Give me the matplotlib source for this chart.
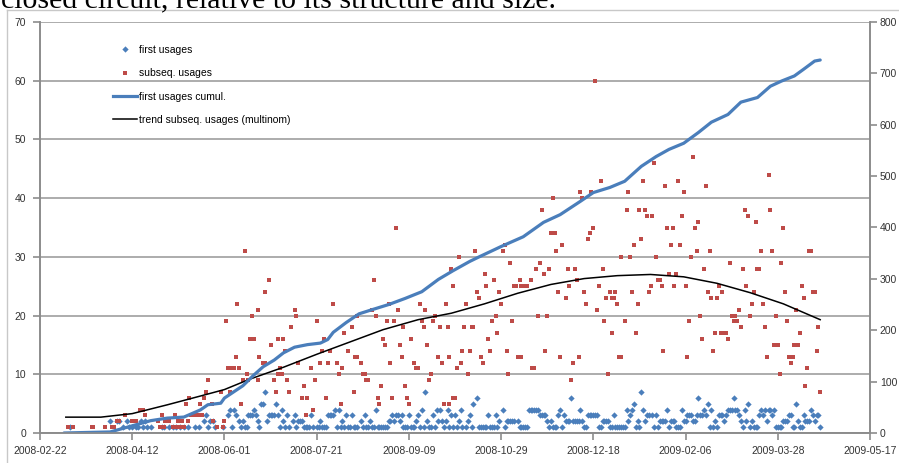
import numpy as np
import matplotlib
matplotlib.use("Agg")
import matplotlib.pyplot as plt
import matplotlib.dates as mdates
from matplotlib.lines import Line2D

# day offsets counted from 2008-02-22
start_date = np.datetime64("2008-02-22")

# first usages, grouped by daily count
first_days_1 = [16, 45, 48, 50, 52, 53, 56, 58, 60, 66, 67, 70, 72, 74, 76, 78, 80, 84, 86, 91, 95, 99,
                104, 109, 111, 112, 119, 130, 133, 135, 139, 143, 144, 145, 146, 148, 150, 151, 153, 154,
                155, 161, 163, 165, 167, 168, 170, 171, 172, 175, 177, 178, 180, 181, 183, 184, 185, 186,
                187, 188, 197, 198, 199, 201, 202, 203, 206, 208, 211, 212, 214, 219, 222, 224, 226, 229,
                231, 234, 238, 239, 240, 241, 242, 244, 245, 246, 248, 252, 260, 261, 262, 263, 264, 276,
                278, 279, 280, 283, 295, 296, 303, 304, 309, 310, 312, 313, 314, 315, 316, 317, 323, 325,
                333, 335, 341, 345, 346, 347, 363, 365, 367, 381, 385, 387, 388, 389, 399, 400, 401, 402,
                408, 409, 412, 413, 423]
first_days_2 = [38, 42, 43, 47, 55, 57, 89, 92, 94, 108, 110, 118, 123, 132, 137, 140, 141, 142, 152,
                164, 174, 179, 189, 190, 192, 195, 204, 210, 216, 218, 220, 227, 232, 249, 253, 254, 255,
                256, 257, 259, 275, 277, 285, 286, 287, 289, 290, 291, 292, 294, 305, 306, 307, 308, 319,
                324, 328, 336, 337, 338, 339, 342, 343, 344, 349, 350, 354, 355, 366, 371, 380, 383, 386,
                394, 403, 404, 405, 411, 415, 416, 417, 420]
first_days_3 = [90, 102, 106, 113, 114, 115, 117, 124, 125, 126, 127, 129, 134, 138, 147, 156, 157, 158,
                159, 166, 169, 176, 191, 193, 194, 196, 200, 205, 213, 223, 225, 233, 243, 247, 271, 272,
                273, 274, 281, 284, 297, 298, 299, 300, 301, 302, 311, 320, 329, 330, 332, 334, 351, 352,
                353, 356, 358, 359, 361, 368, 369, 370, 372, 379, 390, 392, 397, 406, 407, 414, 419, 421,
                422]
first_days_4 = [103, 105, 116, 131, 160, 162, 182, 207, 215, 217, 221, 228, 251, 265, 266, 267, 268, 269,
                270, 282, 293, 318, 321, 327, 340, 348, 360, 364, 373, 374, 375, 377, 378, 382, 391, 393,
                395, 396, 398, 418]
first_days_5 = [120, 121, 128, 235, 322, 362, 384, 410]
first_days_6 = [237, 288, 357, 376]
first_days_7 = [122, 209, 326]

# subsequent usages (day, count)
subseq = [(15, 1), (18, 1), (28, 1), (29, 1), (35, 1), (39, 1), (40, 1), (42, 2), (43, 2), (46, 3),
          (50, 2), (52, 2), (54, 4), (55, 4), (56, 4), (57, 3), (64, 2), (65, 1), (66, 3), (67, 1),
          (68, 2), (70, 2), (72, 1), (73, 3), (74, 1), (75, 2), (76, 1), (77, 2), (78, 1), (79, 5),
          (80, 2), (81, 6), (82, 3), (84, 3), (86, 3), (87, 5), (88, 3), (89, 6), (90, 7), (91, 9),
          (93, 5), (94, 2), (96, 1), (98, 7), (99, 1), (100, 2), (101, 19), (102, 11), (103, 7),
          (104, 11), (105, 11), (106, 13), (107, 22), (108, 11), (109, 5), (110, 9), (111, 31),
          (112, 10), (113, 9), (114, 16), (115, 16), (115, 20), (116, 16), (118, 9), (118, 21),
          (119, 13), (121, 12), (122, 12), (122, 24), (124, 26), (125, 15), (127, 9), (128, 7),
          (129, 16), (129, 10), (130, 11), (131, 10), (132, 16), (133, 14), (134, 9), (135, 7),
          (136, 18), (138, 21), (139, 20), (140, 12), (142, 6), (143, 8), (144, 3), (145, 6), (147, 11),
          (148, 4), (149, 9), (150, 19), (152, 12), (153, 14), (154, 16), (155, 6), (156, 12), (157, 14),
          (159, 22), (161, 12), (162, 10), (163, 5), (164, 11), (165, 17), (167, 14), (169, 18),
          (170, 7), (171, 13), (172, 13), (172, 20), (174, 12), (175, 10), (176, 10), (177, 9),
          (178, 9), (180, 21), (181, 26), (182, 20), (183, 6), (184, 5), (185, 8), (186, 16), (187, 15),
          (188, 19), (189, 22), (190, 12), (191, 6), (192, 19), (193, 35), (194, 21), (195, 15),
          (196, 13), (197, 18), (198, 8), (199, 6), (200, 5), (201, 16), (203, 12), (204, 11), (205, 11),
          (206, 22), (207, 19), (208, 18), (209, 21), (210, 15), (211, 9), (212, 10), (213, 19),
          (214, 20), (216, 13), (217, 18), (218, 12), (219, 5), (220, 22), (221, 18), (222, 5),
          (222, 13), (223, 28), (224, 25), (224, 6), (225, 6), (226, 11), (227, 30), (228, 12),
          (229, 14), (230, 18), (231, 22), (232, 10), (233, 14), (234, 18), (235, 18), (236, 31),
          (237, 24), (238, 23), (239, 13), (240, 12), (241, 27), (242, 25), (243, 16), (244, 14),
          (245, 19), (246, 26), (247, 20), (248, 17), (249, 24), (250, 22), (251, 31), (252, 32),
          (253, 14), (254, 10), (255, 29), (256, 19), (257, 25), (258, 25), (259, 13), (260, 26),
          (261, 13), (261, 25), (262, 25), (264, 25), (266, 26), (267, 11), (268, 11), (269, 28),
          (270, 20), (271, 29), (272, 38), (273, 27), (274, 14), (275, 20), (276, 28), (277, 34),
          (278, 40), (279, 34), (280, 31), (281, 24), (282, 13), (283, 32), (285, 23), (286, 28),
          (287, 25), (288, 9), (289, 12), (290, 28), (291, 26), (292, 13), (293, 41), (294, 40),
          (295, 24), (296, 22), (297, 33), (298, 34), (299, 41), (300, 35), (301, 60), (302, 21),
          (303, 25), (304, 43), (305, 28), (306, 19), (307, 23), (308, 10), (309, 24), (310, 23),
          (310, 17), (311, 23), (312, 24), (313, 22), (314, 13), (315, 13), (315, 30), (317, 19),
          (318, 38), (319, 41), (320, 30), (321, 24), (322, 32), (323, 17), (324, 22), (325, 38),
          (326, 33), (327, 43), (328, 38), (329, 37), (330, 24), (331, 25), (332, 37), (333, 46),
          (334, 30), (335, 26), (336, 26), (337, 25), (338, 14), (339, 42), (340, 35), (341, 27),
          (342, 32), (343, 35), (344, 25), (345, 27), (346, 43), (347, 32), (348, 37), (349, 41),
          (350, 25), (351, 13), (352, 19), (353, 30), (354, 47), (355, 35), (356, 31), (357, 36),
          (358, 20), (359, 16), (360, 28), (361, 42), (362, 24), (363, 31), (364, 23), (365, 14),
          (366, 17), (367, 23), (368, 25), (369, 17), (370, 24), (371, 17), (372, 17), (373, 16),
          (374, 29), (375, 20), (376, 19), (377, 20), (378, 19), (379, 21), (380, 18), (381, 28),
          (382, 38), (383, 25), (384, 37), (385, 20), (386, 22), (387, 24), (388, 36), (389, 28),
          (390, 28), (391, 31), (392, 22), (393, 18), (394, 13), (395, 44), (396, 38), (397, 31),
          (398, 15), (399, 20), (400, 15), (401, 10), (402, 29), (403, 35), (404, 24), (405, 19),
          (406, 13), (407, 12), (408, 13), (409, 15), (410, 21), (411, 15), (412, 17), (413, 25),
          (414, 23), (415, 8), (416, 11), (417, 31), (418, 31), (419, 24), (420, 24), (421, 14),
          (422, 18), (423, 7)]

# first usages cumulated (right axis)
cumul_days = [13, 25, 38, 47, 55, 60, 69, 78, 87, 91, 98, 100, 105, 110, 116, 121, 127, 132, 138, 145,
              152, 156, 159, 166, 173, 180, 189, 198, 207, 216, 224, 233, 237, 250, 262, 273, 282, 293,
              300, 309, 317, 326, 334, 341, 349, 357, 364, 373, 380, 389, 396, 402, 409, 414, 420, 423]
cumul_vals = [0, 1, 2, 11, 19, 24, 29, 31, 45, 55, 58, 68, 80, 92, 113, 129, 142, 156, 167, 172,
              175, 182, 196, 215, 232, 240, 250, 262, 275, 299, 316, 334, 341, 363, 382, 410, 425, 451,
              468, 478, 490, 519, 538, 552, 564, 585, 605, 620, 644, 653, 675, 685, 695, 708, 724, 726]

# polynomial trend of subsequent usages
trend_days = [14, 33, 50, 69, 87, 100, 114, 132, 150, 168, 186, 205, 223, 241, 259, 277, 295, 313,
              331, 349, 367, 385, 403, 423]
trend_vals = [2.7, 2.7, 3.3, 4.8, 6.3, 7.4, 9.2, 11.2, 13.4, 15.5, 17.6, 19.3, 20.4, 22.0, 23.8, 25.3,
              26.3, 26.8, 27.0, 26.6, 25.5, 23.9, 22.0, 19.3]

tick_days = list(range(0, 451, 50))

blue = "#4a7ebb"
red = "#be4b48"
grey = "#8c8c8c"


def to_dates(days):
    return (start_date + np.array(days, dtype="timedelta64[D]")).astype("datetime64[D]").astype(object)


first_days = []
first_vals = []
for level, days in enumerate([first_days_1, first_days_2, first_days_3, first_days_4,
                              first_days_5, first_days_6, first_days_7], start=1):
    first_days += days
    first_vals += [level] * len(days)

W, H = 899, 463
fig = plt.figure(figsize=(W / 100, H / 100), dpi=100)
ax = fig.add_axes([40 / W, 1 - 433 / H, 830 / W, 411 / H])

ax.set_ylim(0, 70)
ax.set_yticks(range(0, 71, 10))
ax.grid(axis="y", color="#a6a6a6", linewidth=1.3)
ax.set_axisbelow(True)

ax.plot(to_dates(first_days), first_vals, linestyle="none", marker="D", markersize=3.2,
        color=blue, markeredgewidth=0)
ax.plot(to_dates([d for d, v in subseq]), [v for d, v in subseq], linestyle="none", marker="s",
        markersize=3.0, color=red, markeredgewidth=0)
ax.plot(to_dates(trend_days), trend_vals, color="black", linewidth=1.1, zorder=5)

ax2 = ax.twinx()
ax2.set_ylim(0, 800)
ax2.set_yticks(range(0, 801, 100))
ax2.plot(to_dates(cumul_days), cumul_vals, color=blue, linewidth=2.3, solid_capstyle="round")

ax.set_xlim(to_dates([0])[0], to_dates([450])[0])
ax.set_xticks(to_dates(tick_days))
ax.xaxis.set_major_formatter(mdates.DateFormatter("%Y-%m-%d"))

for a in (ax, ax2):
    a.spines["top"].set_visible(False)
    for s in ("left", "right", "bottom"):
        a.spines[s].set_color(grey)
        a.spines[s].set_linewidth(1.2)
    a.tick_params(colors=grey, labelcolor="#333333", labelsize=7.5, length=5, width=1.2)
    for lab in a.get_xticklabels() + a.get_yticklabels():
        lab.set_fontfamily("Liberation Sans")
ax.tick_params(axis="x", pad=4)
ax.tick_params(axis="y", pad=5)
ax2.tick_params(axis="y", pad=2)

handles = [
    Line2D([], [], linestyle="none", marker="D", markersize=3.2, color=blue, markeredgewidth=0),
    Line2D([], [], linestyle="none", marker="s", markersize=3.0, color=red, markeredgewidth=0),
    Line2D([], [], color=blue, linewidth=2.3),
    Line2D([], [], color="black", linewidth=1.1),
]
labels = ["first usages", "subseq. usages", "first usages cumul.", "trend subseq. usages (multinom)"]
ax2.legend(handles, labels, loc="upper left", bbox_to_anchor=(113 / W, 1 - 45 / H),
           bbox_transform=fig.transFigure, frameon=False,
           prop={"family": "Liberation Sans", "size": 7.5}, handlelength=2.3,
           handletextpad=0.2, labelspacing=1.28, borderpad=0, borderaxespad=0)

# cut-off caption line above the chart and chart area border
fig.text(1 / W, 1 - 7 / H, "closed circuit, relative to its structure and size.",
         family="Liberation Serif", fontsize=21.5, va="baseline", ha="left")
fig.add_artist(Line2D([7 / W, 1], [1 - 10 / H, 1 - 10 / H], color="#c8c8c8", linewidth=1))
fig.add_artist(Line2D([7 / W, 7 / W], [0, 1 - 10 / H], color="#c8c8c8", linewidth=1))

fig.savefig("out.png", dpi=100)
